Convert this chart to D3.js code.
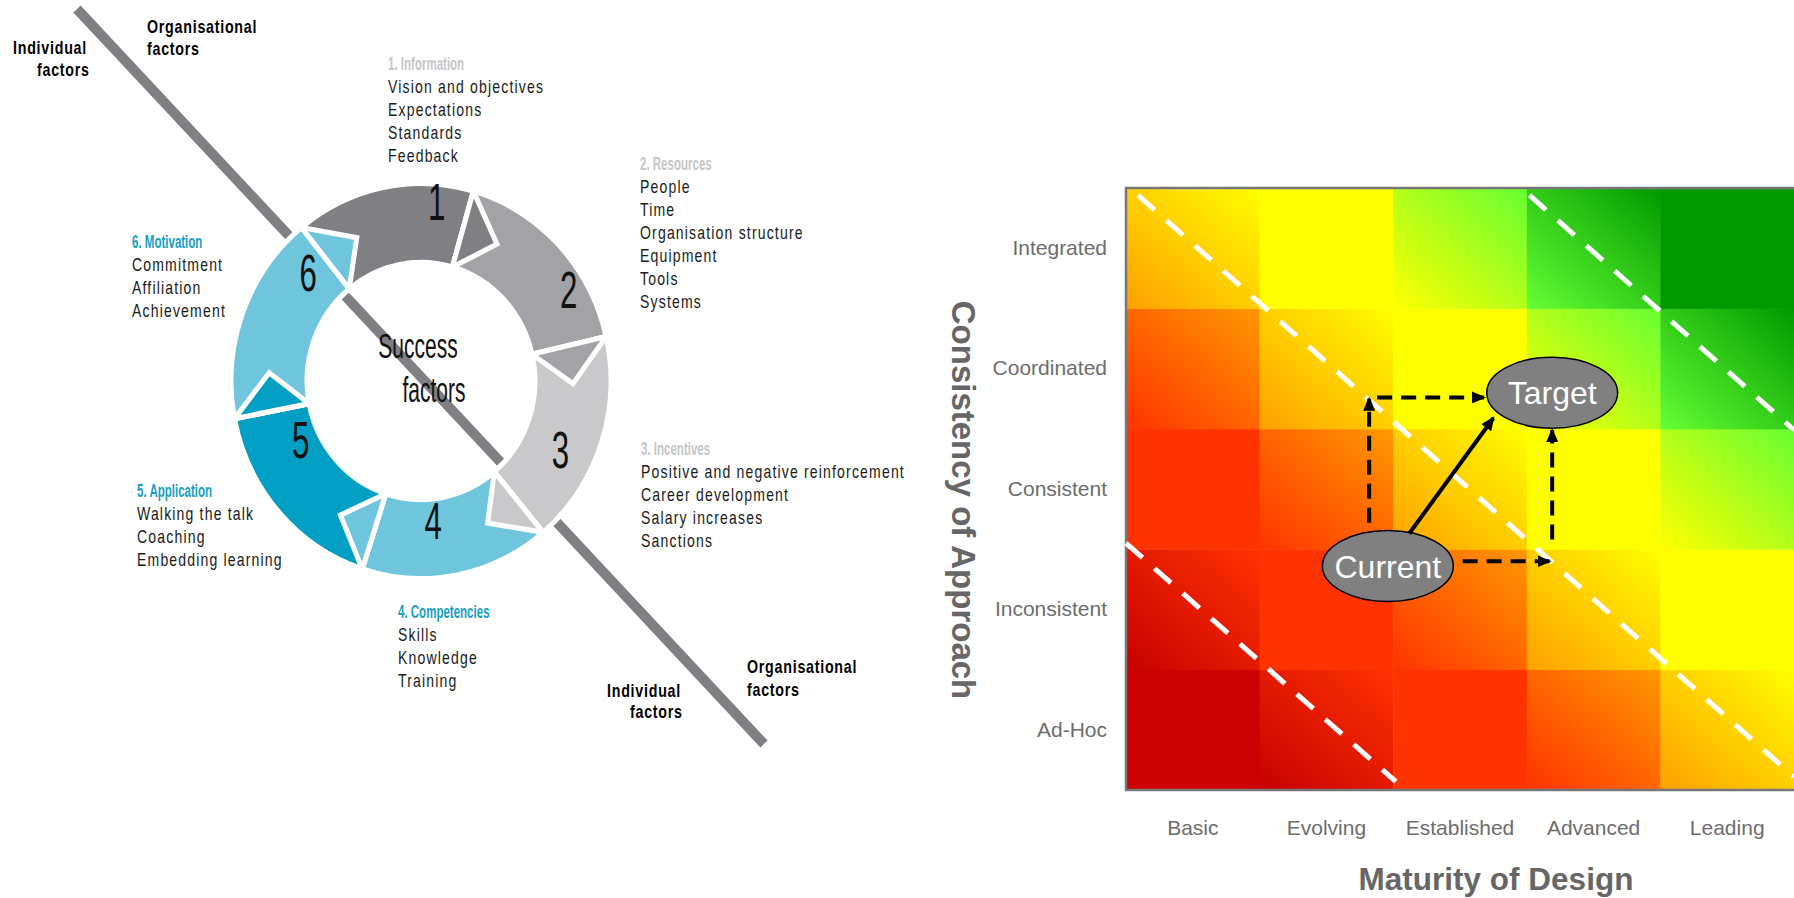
<!DOCTYPE html>
<html lang="en">
<head>
<meta charset="UTF-8">
<title>Success factors and maturity matrix</title>
<script src="https://d3js.org/d3.v7.min.js"></script>
<style>
  body { margin: 0; background: #fff; }
  svg { display: block; font-family: "Liberation Sans", Arial, sans-serif; }
</style>
</head>
<body>
<svg id="chart" width="1794" height="898"></svg>
<script>
// ---- success factors wheel ----
const factorTitles = ["1. Information", "2. Resources", "3. Incentives", "4.  Competencies", "5.  Application", "6.  Motivation"];
const factorItems = [
    ["Vision and objectives", "Expectations", "Standards", "Feedback"],
    ["People", "Time", "Organisation structure", "Equipment", "Tools", "Systems"],
    ["Positive and negative reinforcement", "Career development", "Salary increases", "Sanctions"],
    ["Skills", "Knowledge", "Training"],
    ["Walking the talk", "Coaching", "Embedding learning"],
    ["Commitment", "Affiliation", "Achievement"]
];
// where each arrow segment ends, degrees clockwise from 12 o'clock
const segmentEnds = [16, 77, 140, 198, 259, 321];
const segmentColours = ["#7f7f84", "#a3a3a7", "#c9c9cb", "#6ec5dc", "#009fc3", "#6ec5dc"];
const titleColours = ["#c6c6c6", "#c6c6c6", "#c6c6c6", "#17a0c4", "#17a0c4", "#17a0c4"];

// ---- maturity matrix ----
const maturityLevels = ["Basic", "Evolving", "Established", "Advanced", "Leading"];
const consistencyLevels = ["Ad-Hoc", "Inconsistent", "Consistent", "Coordinated", "Integrated"];
// gradient (bottom-left -> top-right) for each combined level = maturity index + consistency index
const levelColours = [
    ["#cc0000", "#cc0000"], ["#c80000", "#ff3300"], ["#ff3300", "#ff3300"],
    ["#ff3300", "#ff9900"], ["#ff9f00", "#ffff00"], ["#ffff00", "#ffff00"],
    ["#ffff00", "#66ff33"], ["#66ff33", "#009900"], ["#009900", "#009900"]
];
// dashed zone boundaries, in matrix units (columns from left, rows from bottom)
const zoneLines = [
    [[0, 2.05], [2.02, 0.07]],
    [[0.09, 4.94], [5, 0.11]],
    [[3.02, 4.94], [5, 2.99]]
];
const positions = [
    { name: "Current", x: 1.96, y: 1.86 },
    { name: "Target", x: 3.19, y: 3.30 }
];
const stepPaths = [
    [[1.82, 2.22], [1.82, 3.25]],
    [[1.88, 3.26], [2.68, 3.26]],
    [[2.52, 1.90], [3.17, 1.90]],
    [[3.19, 2.08], [3.19, 2.99]]
];
const directPath = [[2.12, 2.13], [2.75, 3.09]];

// ---- layout ----
const blockAnchors = [[388, 70], [640, 170], [641, 455], [398, 618], [137, 497], [132, 248]];
const numberAngles = [5, 58, 116, 175, 244, 314];
const numberRadii = [180, 174, 155, 140, 134, 157];

const svg = d3.select("#chart");
const defs = svg.append("defs");

const rad = d => d * Math.PI / 180;
const polar = (deg, r) => [r * Math.sin(rad(deg)), -r * Math.cos(rad(deg))];

// condensed text: draw normal font squeezed horizontally
function narrow(parent, x, y, sx) {
    return parent.append("g").attr("transform", `translate(${x},${y}) scale(${sx},1)`);
}

// ===================== left: wheel =====================
const cx = 421, cy = 381, rOuter = 190, rInner = 114, headSpan = 14;

svg.append("line")
    .attr("x1", 77).attr("y1", 9)
    .attr("x2", 764).attr("y2", 744)
    .attr("stroke", "#7f7f84")
    .attr("stroke-width", 10);

const segs = segmentEnds.map((end, i) => ({
    start: i === 0 ? segmentEnds[5] - 360 : segmentEnds[i - 1],
    end: end,
    colour: segmentColours[i]
}));

const ring = svg.append("g").attr("transform", `translate(${cx},${cy}) scale(1,1.04)`);
const arc = d3.arc()
    .innerRadius(rInner)
    .outerRadius(rOuter)
    .startAngle(d => rad(d.start))
    .endAngle(d => rad(d.end));

ring.selectAll("path.body")
    .data(segs)
    .join("path")
    .attr("class", "body")
    .attr("d", arc)
    .attr("fill", d => d.colour)
    .attr("stroke", "#fff")
    .attr("stroke-width", 5);

ring.selectAll("path.head")
    .data(segs)
    .join("path")
    .attr("class", "head")
    .attr("d", d => "M" + polar(d.end, rOuter) + "L" + polar(d.end + headSpan, (rOuter + rInner) / 2) +
        "L" + polar(d.end, rInner) + "Z")
    .attr("fill", d => d.colour)
    .attr("stroke", "#fff")
    .attr("stroke-width", 5)
    .attr("stroke-linejoin", "miter");

// segment numbers
segs.forEach((d, i) => {
    const p = polar(numberAngles[i], numberRadii[i]);
    narrow(svg, cx + p[0], cy + p[1], 0.6)
        .append("text")
        .attr("text-anchor", "middle")
        .attr("dy", "0.36em")
        .attr("font-size", 52)
        .attr("fill", "#111")
        .text(i + 1);
});

narrow(svg, 418, 358, 0.6).append("text")
    .attr("text-anchor", "middle").attr("font-size", 35).attr("fill", "#111").text("Success");
narrow(svg, 434, 402, 0.6).append("text")
    .attr("text-anchor", "middle").attr("font-size", 35).attr("fill", "#111").text("factors");

// factor blocks
factorTitles.forEach((title, i) => {
    const [x, y] = blockAnchors[i];
    narrow(svg, x, y, 0.64).append("text")
        .attr("font-size", 18)
        .attr("font-weight", "bold")
        .attr("fill", titleColours[i])
        .text(title);
    const g = narrow(svg, x, y, 0.78);
    g.selectAll("text")
        .data(factorItems[i])
        .join("text")
        .attr("y", (d, j) => 23 * (j + 1))
        .attr("font-size", 18)
        .attr("letter-spacing", 1.5)
        .attr("fill", "#1a1a1a")
        .text(d => d);
});

// individual / organisational captions
const captions = [
    ["Individual", 13, 54], ["factors", 37, 76],
    ["Organisational", 147, 33], ["factors", 147, 55],
    ["Individual", 607, 697], ["factors", 630, 718],
    ["Organisational", 747, 673], ["factors", 747, 696]
];
captions.forEach(([t, x, y]) => {
    narrow(svg, x, y, 0.75).append("text")
        .attr("font-size", 19)
        .attr("font-weight", "bold")
        .attr("letter-spacing", 1)
        .attr("fill", "#000")
        .text(t);
});

// ===================== right: matrix =====================
const plotLeft = 1126, plotRight = 1794, plotTop = 188, plotBottom = 790;
const x = d3.scaleBand().domain(maturityLevels).range([plotLeft, plotRight]);
const y = d3.scaleBand().domain(consistencyLevels).range([plotBottom, plotTop]);
const xc = d3.scaleLinear().domain([0, 5]).range([plotLeft, plotRight]);
const yc = d3.scaleLinear().domain([0, 5]).range([plotBottom, plotTop]);

const cells = [];
consistencyLevels.forEach((c, ci) => maturityLevels.forEach((m, mi) => {
    cells.push({ m, c, level: mi + ci, id: `cell-${ci}-${mi}` });
}));

const grads = defs.selectAll("linearGradient")
    .data(cells)
    .join("linearGradient")
    .attr("id", d => d.id)
    .attr("x1", 0).attr("y1", 1).attr("x2", 1).attr("y2", 0);
grads.append("stop").attr("offset", "0%").attr("stop-color", d => levelColours[d.level][0]);
grads.append("stop").attr("offset", "100%").attr("stop-color", d => levelColours[d.level][1]);

svg.append("g")
    .selectAll("rect")
    .data(cells)
    .join("rect")
    .attr("x", d => x(d.m))
    .attr("y", d => y(d.c))
    .attr("width", x.bandwidth() + 0.5)
    .attr("height", y.bandwidth() + 0.5)
    .attr("fill", d => `url(#${d.id})`);

svg.append("path")
    .attr("d", `M${plotRight},${plotTop}H${plotLeft}V${plotBottom}H${plotRight}`)
    .attr("fill", "none")
    .attr("stroke", "#777")
    .attr("stroke-width", 2.5);

const line = d3.line().x(d => xc(d[0])).y(d => yc(d[1]));

svg.append("g")
    .selectAll("path")
    .data(zoneLines)
    .join("path")
    .attr("d", line)
    .attr("stroke", "#fff")
    .attr("stroke-width", 5)
    .attr("stroke-dasharray", "22,16")
    .attr("fill", "none");

defs.append("marker")
    .attr("id", "arrow")
    .attr("viewBox", "0 0 14 12")
    .attr("refX", 12)
    .attr("refY", 6)
    .attr("markerWidth", 14)
    .attr("markerHeight", 12)
    .attr("markerUnits", "userSpaceOnUse")
    .attr("orient", "auto")
    .append("path")
    .attr("d", "M0,0L14,6L0,12Z")
    .attr("fill", "#000");

// ellipses
const rx = xc(0.49) - xc(0), ry = yc(0) - yc(0.295);
const pos = svg.append("g").selectAll("g").data(positions).join("g")
    .attr("transform", d => `translate(${xc(d.x)},${yc(d.y)})`);
pos.append("ellipse")
    .attr("rx", rx).attr("ry", ry)
    .attr("fill", "#808080")
    .attr("stroke", "#000")
    .attr("stroke-width", 1.5);
pos.append("text")
    .attr("text-anchor", "middle")
    .attr("dy", "0.36em")
    .attr("font-size", 32)
    .attr("fill", "#fff")
    .text(d => d.name);

svg.append("g")
    .selectAll("path")
    .data(stepPaths)
    .join("path")
    .attr("d", line)
    .attr("stroke", "#000")
    .attr("stroke-width", 4)
    .attr("stroke-dasharray", "15,9")
    .attr("fill", "none")
    .attr("marker-end", "url(#arrow)");

svg.append("path")
    .attr("d", line(directPath))
    .attr("stroke", "#000")
    .attr("stroke-width", 4)
    .attr("fill", "none")
    .attr("marker-end", "url(#arrow)");

// axes
const xAxis = svg.append("g")
    .attr("transform", `translate(0,${plotBottom})`)
    .call(d3.axisBottom(x).tickSize(0).tickPadding(30));
const yAxis = svg.append("g")
    .attr("transform", `translate(${plotLeft},0)`)
    .call(d3.axisLeft(y).tickSize(0).tickPadding(19));
[xAxis, yAxis].forEach(a => {
    a.select(".domain").remove();
    a.selectAll("text")
        .attr("font-family", "'Liberation Sans', Arial, sans-serif")
        .attr("font-size", 21)
        .attr("fill", "#6d6d6d");
});

svg.append("text")
    .attr("x", 1496).attr("y", 890)
    .attr("text-anchor", "middle")
    .attr("font-size", 31.5)
    .attr("font-weight", "bold")
    .attr("fill", "#666")
    .text("Maturity of Design");

svg.append("text")
    .attr("transform", "translate(952,500) rotate(90)")
    .attr("text-anchor", "middle")
    .attr("font-size", 33)
    .attr("font-weight", "bold")
    .attr("fill", "#666")
    .text("Consistency of Approach");
</script>
</body>
</html>
